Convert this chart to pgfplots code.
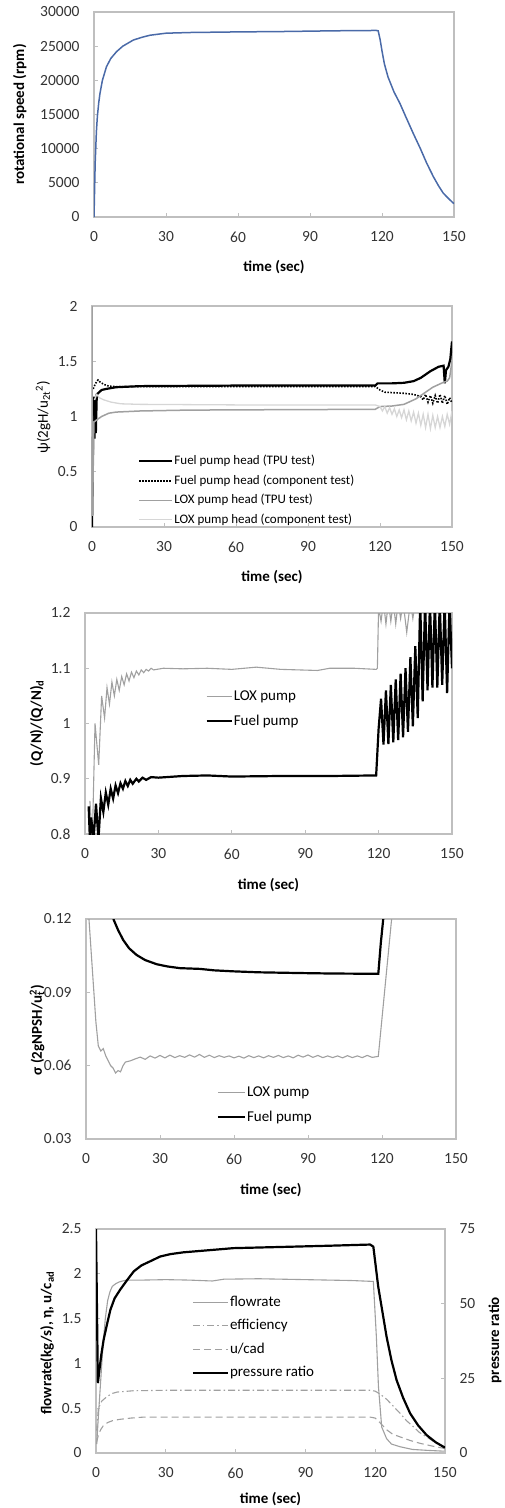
\documentclass[border=0pt]{standalone}
\usepackage{fontspec}
\setmainfont{Carlito}
\usepackage{pgfplots}
\pgfplotsset{compat=1.18}

\definecolor{speedblue}{HTML}{4A6AA8}
\definecolor{axgray}{HTML}{BFBFBF}
\definecolor{loxgray}{HTML}{A0A0A0}
\definecolor{loxlight}{HTML}{D6D6D6}

\newcommand{\lblfont}{\fontsize{15}{18}\selectfont\bfseries}

\pgfplotsset{
  panel/.style={
    scale only axis, anchor=south west,
    xmin=0, xmax=150, xtick={0,30,60,90,120,150},
    xticklabels={0,30,60,90,120,150},
    scaled x ticks=false, scaled y ticks=false,
    axis line style={draw=axgray, line width=1.2pt},
    tick align=inside, xtick pos=bottom, ytick pos=left,
    major tick length=4pt, tick style={draw=axgray, line width=0.8pt},
    tick label style={font=\fontsize{15.5}{18}\selectfont, text=black!80},
    xticklabel shift=11pt, yticklabel shift=11pt,
    legend style={draw=none, fill=none, anchor=north west, inner sep=0pt,
      font=\fontsize{15}{18}\selectfont, row sep=9pt,
      nodes={inner sep=1pt, text height=11pt, text depth=3pt}},
    legend cell align=left,
  },
  xlab/.style={every axis x label/.style={at={(axis description cs:0.5,#1)},anchor=center,font=\lblfont}},
  ylab/.style 2 args={every axis y label/.style={at={(axis description cs:#1,#2)},rotate=90,anchor=center,font=\lblfont}},
  leglen/.style={legend image code/.code={\draw[##1] (0pt,0pt) -- (#1,0pt);}},
}

\begin{document}
\begin{tikzpicture}
\path[use as bounding box] (0pt,0pt) rectangle (504pt,-1508pt);

% ---- rotational speed
\begin{axis}[panel, at={(94pt,-217pt)}, width=360pt, height=205pt,
  ymin=0, ymax=30000, ytick={0,5000,10000,15000,20000,25000,30000},
  yticklabels={0,5000,10000,15000,20000,25000,30000},
  xlabel={time (sec)}, ylabel={rotational speed (rpm)},
  xlab=-0.244, ylab={-0.206}{0.5}]
\addplot[speedblue, line width=1.5pt] coordinates {
 (0,0) (0.5,8000) (1,12500) (1.4,14700) (2,16800) (2.5,18100) (3.5,20000)
 (5.2,22000) (7,23200) (9.4,24200) (12,25000) (16.4,25900) (20,26300)
 (23.3,26600) (30,26900) (40,27000) (58,27080) (80,27150) (100,27250)
 (117.6,27300) (118.4,27250) (119.2,26000) (120,24300) (121,22400)
 (122.5,20500) (125,18300) (127.5,16600) (130,14600) (133,12250)
 (136,10000) (138.6,7900) (141.4,5900) (143.5,4600) (145.5,3500)
 (148,2600) (150,1950)};
\end{axis}

% ---- head coefficient
\begin{axis}[panel, at={(92pt,-527pt)}, width=360pt, height=221pt,
  ymin=0, ymax=2, ytick={0,0.5,1,1.5,2}, yticklabels={0,0.5,1,1.5,2},
  xlabel={time (sec)},
  ylabel={\mdseries ψ(2gH/u\textsubscript{2t}\textsuperscript{2})},
  xlab=-0.226, ylab={-0.136}{0.498},
  leglen=33pt,
  legend style={at={(axis description cs:0.128,0.33)}, font=\fontsize{13}{16}\selectfont,
    row sep=5.5pt, nodes={inner sep=1pt, text height=9.5pt, text depth=2.5pt}}]
\addplot[black, line width=2.2pt] coordinates {
 (0,0) (0.3,0.5) (0.6,1.1) (0.8,1.18) (1,0.8) (1.3,1.15) (1.6,0.85) (2,1.2)
 (3,1.22) (4,1.24) (6,1.25) (10,1.265) (20,1.275) (60,1.28) (118,1.28)
 (119,1.3) (125,1.3) (130,1.305) (134,1.32) (137,1.35) (141,1.41) (144.4,1.45)
 (146.5,1.46) (147,1.30) (147.5,1.42) (148.5,1.45) (149.3,1.52) (150,1.68)};
\addlegendentry{Fuel pump head (TPU test)}
\addplot[black, line width=1.6pt, dash pattern=on 1.5pt off 1.5pt] coordinates {
 (0.5,1.25) (1.5,1.3) (2.5,1.33) (3.5,1.31) (5,1.29) (7,1.275) (10,1.27)
 (60,1.272) (118,1.272) (120,1.24) (122,1.22) (126,1.215) (130,1.21)
 (134,1.2) (137,1.18) (138,1.15) (139,1.2) (140,1.13) (141,1.19) (142,1.12)
 (143,1.19) (144,1.12) (145,1.2) (146,1.12) (147,1.19) (148,1.11) (149,1.17)
 (150,1.12)};
\addlegendentry{Fuel pump head (component test)}
\addplot[loxgray, line width=1.5pt] coordinates {
 (0,2) (0.2,0.1) (0.8,0.95) (2,0.97) (4,1.0) (7,1.03) (10,1.04) (20,1.05)
 (40,1.058) (80,1.062) (118,1.065) (120,1.09) (125,1.095) (130,1.11)
 (135,1.16) (139,1.22) (142,1.265) (146.5,1.31) (148,1.32) (149,1.35)
 (150,1.5)};
\addlegendentry{LOX pump head (TPU test)}
\addplot[loxlight, line width=1.3pt] coordinates {
 (1,1.15) (2,1.2) (3,1.17) (5,1.15) (8,1.13) (12,1.115) (20,1.11) (60,1.105)
 (118,1.105) (120,1.09) (121,1.05) (122,1.09) (123,1.03) (124,1.08)
 (125,1.02) (126,1.07) (127,1.0) (128,1.06) (129,0.99) (130,1.06) (131,0.97)
 (132,1.05) (133,0.96) (134,1.04) (135,0.94) (136,1.03) (137,0.92)
 (138,1.02) (139,0.9) (140,1.02) (141,0.89) (142,1.01) (143,0.9) (144,1.0)
 (145,0.9) (146,1.0) (147,0.91) (148,1.02) (149,0.93) (150,1.05)};
\addlegendentry{LOX pump head (component test)}
\end{axis}

% ---- flow coefficient
\begin{axis}[panel, at={(85pt,-834pt)}, width=367pt, height=221pt,
  ymin=0.8, ymax=1.2, ytick={0.8,0.9,1,1.1,1.2}, yticklabels={0.8,0.9,1,1.1,1.2},
  xlabel={time (sec)}, ylabel={(Q/N)/(Q/N)\textsubscript{d}},
  xlab=-0.231, ylab={-0.131}{0.502},
  leglen=25pt, legend style={at={(axis description cs:0.328,0.66)}}]
\addplot[loxgray, line width=1.1pt] coordinates {
 (2,0.86) (3,0.79) (4.1,1.0) (5.6,0.925) (6.8,1.05) (8,1.01) (9,1.065)
 (10,1.035) (11,1.075) (12,1.05) (13,1.08) (14,1.06) (15,1.085) (16,1.07)
 (17,1.09) (18,1.077) (19,1.093) (20,1.083) (21,1.095) (22,1.088) (23,1.097)
 (24,1.092) (25,1.098) (26,1.095) (27,1.1) (28,1.097) (32,1.1) (40,1.099)
 (50,1.1) (60,1.098) (70,1.102) (80,1.098) (95,1.096) (100,1.1) (110,1.1)
 (119,1.098) (119.5,1.1) (120,1.21) (121,1.185) (122,1.22) (123,1.18)
 (124,1.22) (125,1.185) (126,1.22) (127,1.18) (128,1.22) (129,1.19)
 (130,1.22) (131.5,1.165) (133,1.22) (134,1.19) (135,1.22) (150,1.22)};
\addlegendentry{LOX pump}
\addplot[black, line width=2.2pt] coordinates {
 (1.5,0.85) (2,0.79) (2.5,0.83) (3.5,0.79) (4.5,0.855) (5.5,0.79)
 (6.5,0.865) (7.5,0.84) (8.5,0.875) (9.5,0.853) (10.5,0.882) (11.5,0.864)
 (12.5,0.888) (13.5,0.874) (14.5,0.892) (15.5,0.882) (16.5,0.896)
 (17.5,0.887) (18.5,0.898) (19.5,0.891) (21,0.9) (22,0.895) (23.5,0.902)
 (25,0.898) (27,0.903) (30,0.902) (40,0.905) (50,0.906) (60,0.904)
 (80,0.905) (100,0.905) (119,0.906) (120,0.99) (121,1.045) (122,0.962)
 (123,1.06) (124,0.963) (125,1.07) (126,0.966) (127,1.08) (128,0.97)
 (129,1.09) (130,0.975) (131,1.1) (132,0.985) (133,1.12) (134,0.995)
 (135,1.14) (136,1.01) (137,1.22) (138,1.04) (139,1.22) (140,1.06)
 (141,1.22) (142,1.065) (143,1.22) (144,1.065) (145,1.22) (146,1.07)
 (147,1.22) (148,1.055) (149,1.22) (150,1.1)};
\addlegendentry{Fuel pump}
\end{axis}

% ---- cavitation number
\begin{axis}[panel, at={(86pt,-1139pt)}, width=370pt, height=220pt,
  ymin=0.03, ymax=0.12, ytick={0.03,0.06,0.09,0.12},
  yticklabels={0.03,0.06,0.09,0.12},
  xlabel={time (sec)},
  ylabel={σ (2gNPSH/u\rlap{\textsubscript{t}}\textsuperscript{2})},
  xlab=-0.232, ylab={-0.132}{0.495},
  leglen=27pt, legend style={at={(axis description cs:0.353,0.25)}}]
\addplot[loxgray, line width=1.1pt] coordinates {
 (1.2,0.12) (2,0.108) (3,0.093) (4,0.078) (5,0.068) (6,0.066) (7,0.067)
 (8,0.064) (9,0.062) (10,0.06) (11,0.059) (12,0.057) (13,0.058)
 (14,0.0575) (15,0.06) (16,0.0615) (18,0.062) (20,0.0628) (22,0.0635)
 (24,0.0626) (26,0.064) (28,0.0631) (30,0.0642) (32,0.0632) (34,0.0643)
 (36,0.0633) (38,0.0641) (40,0.0634) (42,0.0644) (44,0.0635) (46,0.0646)
 (48,0.0634) (50,0.0643) (52,0.0633) (54,0.0641) (56,0.0634) (58,0.064)
 (60,0.0632) (62,0.0639) (64,0.0631) (66,0.0641) (68,0.0633) (70,0.064)
 (72,0.0632) (74,0.0641) (76,0.0634) (78,0.0642) (80,0.0633) (82,0.064)
 (84,0.0632) (86,0.0643) (88,0.0635) (90,0.0644) (92,0.0634) (94,0.0642)
 (96,0.0633) (98,0.064) (100,0.0633) (102,0.064) (104,0.0632) (106,0.0641)
 (108,0.0633) (110,0.064) (112,0.0633) (114,0.0642) (116,0.0634)
 (118.5,0.0638) (123.9,0.12) (124.5,0.125)};
\addlegendentry{LOX pump}
\addplot[black, line width=2.2pt] coordinates {
 (11.1,0.12) (13,0.1155) (15.1,0.1114) (17.5,0.108) (20.5,0.1053)
 (24,0.1032) (28.7,0.1015) (33,0.1006) (38.1,0.0999) (46.2,0.0996)
 (52,0.099) (59.7,0.0986) (70,0.0982) (86.8,0.0979) (100,0.0977)
 (117.8,0.0976) (118.5,0.0976) (119.5,0.11) (120.5,0.12) (120.8,0.125)};
\addlegendentry{Fuel pump}
\end{axis}

% ---- turbine performance (left axis)
\begin{axis}[panel, at={(96pt,-1453pt)}, width=349pt, height=224pt,
  ymin=0, ymax=2.5, ytick={0,0.5,1,1.5,2,2.5}, yticklabels={0,0.5,1,1.5,2,2.5},
  xlabel={time (sec)}, ylabel={flowrate(kg/s), η, u/c\textsubscript{ad}},
  xlab=-0.205, ylab={-0.14}{0.491}]
\addplot[loxgray, line width=1.1pt] coordinates {
 (0.3,0.1) (1,0.4) (2,0.8) (3,1.2) (4,1.5) (5,1.7) (6,1.8) (7,1.86)
 (8.5,1.89) (10,1.91) (13,1.93) (20,1.93) (30,1.935) (40,1.93) (50,1.92)
 (55,1.94) (70,1.945) (90,1.935) (100,1.93) (110,1.925) (119.2,1.915)
 (120.5,1.3) (121.4,0.74) (122.8,0.29) (124.9,0.16) (127,0.1) (130.7,0.07)
 (136,0.04) (142.2,0.03) (150,0.02)};
\addplot[loxgray, line width=1.1pt, dash pattern=on 7pt off 3pt on 1.5pt off 3pt] coordinates {
 (0.3,0.25) (1,0.5) (2.5,0.58) (4.7,0.63) (7,0.665) (9,0.68) (16,0.695)
 (30,0.7) (118,0.7) (120,0.69) (122,0.66) (124.9,0.6) (127.5,0.53)
 (130.7,0.443) (133.5,0.36) (136.4,0.293) (139,0.23) (142.1,0.18)
 (145,0.13) (147.8,0.089) (150,0.07)};
\addplot[loxgray, line width=1.1pt, dash pattern=on 7pt off 4pt] coordinates {
 (0.3,0.12) (1,0.2) (2,0.26) (3,0.3) (5,0.34) (7,0.36) (10,0.375) (15,0.39)
 (20,0.4) (118,0.4) (120,0.39) (122,0.34) (124.9,0.26) (127.5,0.21)
 (130.7,0.18) (135,0.14) (139.3,0.108) (145,0.075) (150,0.05)};
\end{axis}

% ---- turbine performance (right axis)
\begin{axis}[panel, at={(96pt,-1453pt)}, width=349pt, height=224pt,
  axis x line=none, axis y line*=right, ytick pos=right,
  ymin=0, ymax=75, ytick={0,25,50,75}, yticklabels={0,25,50,75},
  ylabel={pressure ratio}, ylab={1.143}{0.504},
  leglen=35pt,
  legend style={at={(axis description cs:0.274,0.71)}, row sep=7.5pt}]
\addlegendimage{loxgray, line width=1.1pt}
\addlegendentry{flowrate}
\addlegendimage{loxgray, line width=1.1pt, dash pattern=on 7pt off 3pt on 1.5pt off 3pt}
\addlegendentry{efficiency}
\addlegendimage{loxgray, line width=1.1pt, dash pattern=on 7pt off 4pt}
\addlegendentry{u/cad}
\addplot[black, line width=2.2pt] coordinates {
 (0,75) (0.8,23.4) (1.5,28) (2.3,33) (3.3,38) (4.7,43) (6.2,48) (8,51.8)
 (10.4,54.7) (13,57.5) (16.2,60.8) (19.5,62.8) (23.3,64.2) (27.6,65.8)
 (32,66.6) (37.6,67.2) (50,68) (59.1,68.6) (80,69) (100,69.4) (117.8,69.8)
 (119.2,69.1) (121.3,55.7) (124.9,38.9) (127,31) (129.2,24.4) (132,18.5)
 (135,13.3) (138.5,9.2) (142.1,6.0) (146,3.6) (149.3,2.1) (150,1.8)};
\addlegendentry{pressure ratio}
\end{axis}
\end{tikzpicture}
\end{document}
